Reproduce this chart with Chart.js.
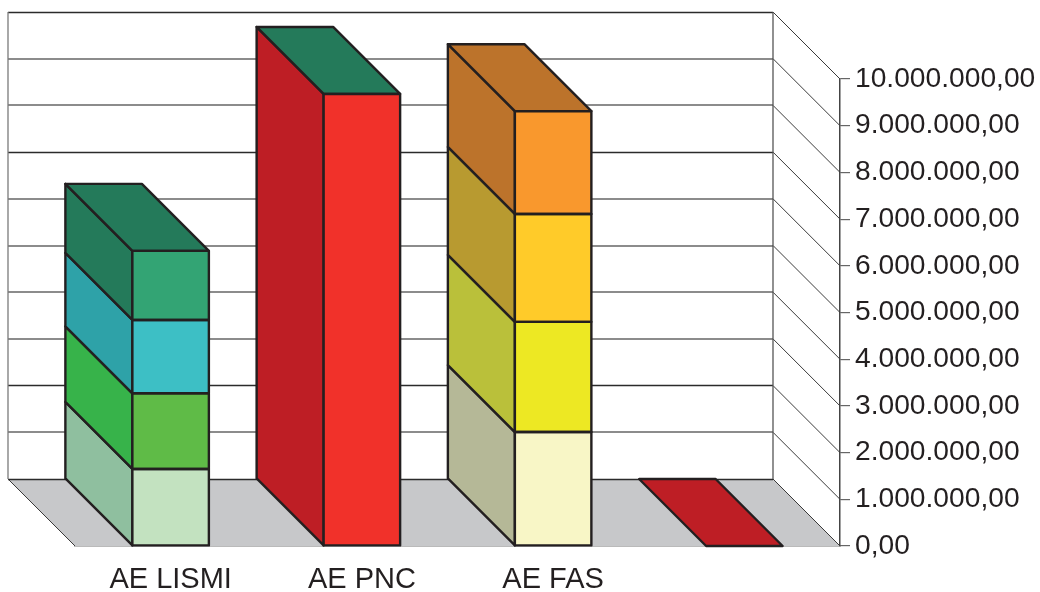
<!DOCTYPE html>
<html><head><meta charset="utf-8">
<style>html,body{margin:0;padding:0;background:#fff}canvas{display:block}</style>
<script src="https://cdn.jsdelivr.net/npm/chart.js@4"></script></head>
<body><canvas id="c" width="1040" height="592"></canvas>
<script>
const categories = ['AE LISMI','AE PNC','AE FAS',''];
const yTicks = [0,1000000,2000000,3000000,4000000,5000000,6000000,7000000,8000000,9000000,10000000];
const lismi1 = [1650000,null,null,null];
const lismi2 = [1620000,null,null,null];
const lismi3 = [1570000,null,null,null];
const lismi4 = [1480000,null,null,null];
const pnc    = [null,9680000,null,0];
const fas1   = [null,null,2440000,null];
const fas2   = [null,null,2360000,null];
const fas3   = [null,null,2310000,null];
const fas4   = [null,null,2200000,null];

const series = [
 {data:lismi1,front:'#C3E2C0',side:'#8FBF9F',top:'#247A5A'},
 {data:lismi2,front:'#5FBB47',side:'#37B34A',top:'#247A5A'},
 {data:lismi3,front:'#3DBFC5',side:'#2EA2A8',top:'#247A5A'},
 {data:lismi4,front:'#33A474',side:'#247A5A',top:'#247A5A'},
 {data:pnc,front:'#F1312A',side:'#BE1E25',top:'#247A5A',zeroTop:'#BE1E25'},
 {data:fas1,front:'#F8F6C6',side:'#B5B897',top:'#BC732B'},
 {data:fas2,front:'#EDE823',side:'#BAC03A',top:'#BC732B'},
 {data:fas3,front:'#FFCB29',side:'#B89A30',top:'#BC732B'},
 {data:fas4,front:'#F9982D',side:'#BC732B',top:'#BC732B'}
];
const INK='#231F20', DEPTH=67, DARK_LINES=[0,2000000,7000000,10000000];

function fmt(v){
  const s=Math.round(v).toString().replace(/\B(?=(\d{3})+(?!\d))/g,'.');
  return s+',00';
}
function poly(ctx,pts,fill,stroke,lw){
  ctx.beginPath();
  pts.forEach((p,i)=>i?ctx.lineTo(p[0],p[1]):ctx.moveTo(p[0],p[1]));
  ctx.closePath();
  if(fill){ctx.fillStyle=fill;ctx.fill();}
  if(stroke){ctx.strokeStyle=stroke;ctx.lineWidth=lw;ctx.lineJoin='round';ctx.stroke();}
}
function seg(ctx,x0,y0,x1,y1,color,lw){
  ctx.strokeStyle=color;ctx.lineWidth=lw;
  ctx.beginPath();ctx.moveTo(x0,y0);ctx.lineTo(x1,y1);ctx.stroke();
}
const depth3d={
  id:'depth3d',
  beforeDatasetsDraw(chart){
    const {ctx,chartArea:a,scales:{y}}=chart, d=DEPTH;
    ctx.save();
    poly(ctx,[[a.left-d,a.bottom-d],[a.right-d,a.bottom-d],[a.right,a.bottom],[a.left,a.bottom]],'#C7C8CA');
    yTicks.forEach(v=>{
      const py=y.getPixelForValue(v), dark=DARK_LINES.includes(v);
      const wy=dark?Math.floor(py-d)+0.5:Math.round(py-d);
      seg(ctx,a.left-d,wy,a.right-d,wy,dark?'#2b2b2b':'#666',1.3);
      seg(ctx,a.right-d,py-d,a.right,py,'#3a3a3a',1);
    });
    seg(ctx,a.left-d,a.bottom-d,a.left,a.bottom,'#3a3a3a',1);
    seg(ctx,a.left-d,a.top-d,a.left-d,a.bottom-d,'#7a7a7a',1.3);
    seg(ctx,a.right-d,a.top-d,a.right-d,a.bottom-d,'#555',1.3);
    categories.forEach((c,i)=>{
      let last=-1;
      series.forEach((s,k)=>{if(s.data[i]!==null)last=k;});
      series.forEach((s,k)=>{
        if(s.data[i]===null)return;
        const p=chart.getDatasetMeta(k).data[i].getProps(['x','y','base','width'],true);
        const l=p.x-p.width/2;
        if(p.base-p.y>0.5)
          poly(ctx,[[l,p.y],[l-d,p.y-d],[l-d,p.base-d],[l,p.base]],s.side,INK,2.4);
      });
      if(last>=0){
        const s=series[last];
        const p=chart.getDatasetMeta(last).data[i].getProps(['x','y','base','width'],true);
        const l=p.x-p.width/2,r=p.x+p.width/2;
        poly(ctx,[[l,p.y],[l-d,p.y-d],[r-d,p.y-d],[r,p.y]],s.data[i]===0?s.zeroTop:s.top,INK,2.4);
      }
    });
    ctx.restore();
  },
  afterDatasetsDraw(chart){
    const {ctx}=chart;
    ctx.save();
    series.forEach((s,k)=>{
      chart.getDatasetMeta(k).data.forEach((el,i)=>{
        if(s.data[i]===null||s.data[i]===0)return;
        const p=el.getProps(['x','y','base','width'],true);
        ctx.strokeStyle=INK;ctx.lineWidth=2.4;ctx.lineJoin='round';
        ctx.strokeRect(p.x-p.width/2,p.y,p.width,p.base-p.y);
      });
    });
    ctx.restore();
  }
};
new Chart(document.getElementById('c'),{
  type:'bar',
  plugins:[depth3d],
  data:{labels:categories,datasets:series.map(s=>({
    data:s.data,backgroundColor:s.front,borderWidth:0,
    barPercentage:0.4,categoryPercentage:1
  }))},
  options:{
    responsive:false,animation:false,
    layout:{padding:{left:75,top:79,right:0,bottom:0}},
    plugins:{legend:{display:false},tooltip:{enabled:false}},
    scales:{
      x:{stacked:true,
        grid:{display:false},
        border:{display:true,color:'#777',width:1.5},
        ticks:{color:INK,font:{family:'Liberation Sans',size:29},padding:9,maxRotation:0,autoSkip:false},
        afterFit(s){s.height=46;}
      },
      y:{stacked:true,position:'right',min:0,max:10000000,
        afterBuildTicks(s){s.ticks=yTicks.map(v=>({value:v}));},
        grid:{drawOnChartArea:false,drawTicks:true,tickLength:10,color:'#666',lineWidth:1.2},
        border:{display:true,color:'#444',width:1.5},
        ticks:{color:INK,font:{family:'Liberation Sans',size:28.2},padding:5,callback:v=>fmt(v)},
        afterFit(s){s.width=200;}
      }
    }
  }
});
</script></body></html>
